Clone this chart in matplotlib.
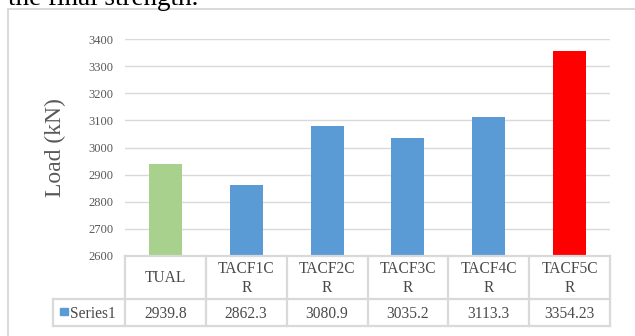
import matplotlib.pyplot as plt
from matplotlib.lines import Line2D
from matplotlib.patches import Rectangle

categories = ["TUAL", "TACF1CR", "TACF2CR", "TACF3CR", "TACF4CR", "TACF5CR"]
header_labels = ["TUAL", "TACF1C\nR", "TACF2C\nR", "TACF3C\nR", "TACF4C\nR", "TACF5C\nR"]
loads = [2939.8, 2862.3, 3080.9, 3035.2, 3113.3, 3354.23]
bar_colors = ["#A9D18E", "#5B9BD5", "#5B9BD5", "#5B9BD5", "#5B9BD5", "#FF0000"]
series_name = "Series1"
y_ticks = [2600, 2700, 2800, 2900, 3000, 3100, 3200, 3300, 3400]

W, H = 635, 336
plt.rcParams["font.family"] = ["Liberation Serif", "DejaVu Serif"]
fig = plt.figure(figsize=(W / 100, H / 100), dpi=100)

def fx(px):
  return px / W

def fy(py):
  return 1 - py / H

grid_c = "#D9D9D9"
text_c = "#595959"

# outer chart frame (runs off the right and bottom edges)
fig.add_artist(Rectangle((fx(8), fy(345)), fx(640) - fx(8), fy(9) - fy(345),
                         transform=fig.transFigure, fill=False, ec=grid_c, lw=1.4))

# caption line above, clipped at the top
fig.text(fx(8), fy(5), "the final strength.", fontsize=19.5, ha="left", va="baseline", color="black")

left, right, top, base = 125, 610, 39, 256
ax = fig.add_axes([fx(left), fy(base), fx(right) - fx(left), fy(top) - fy(base)])
x = range(len(categories))
ax.bar(x, loads, width=0.41, color=bar_colors, zorder=3)
ax.set_xlim(-0.5, len(categories) - 0.5)
ax.set_ylim(2600, 3400)
ax.set_yticks(y_ticks)
ax.yaxis.grid(True, color=grid_c, lw=1.0, zorder=0)
ax.set_xticks([])
ax.tick_params(axis="y", length=0, pad=8.5, labelsize=9, labelcolor=text_c)
for s in ax.spines.values():
  s.set_visible(False)
ax.set_axisbelow(True)

fig.text(fx(55), fy((top + base) / 2), "Load (kN)", rotation=90, fontsize=17,
         ha="center", va="center", color=text_c)

# data table under the axis
row1, row2, row3 = 256, 299, 326
lab_left = 53
col_w = (right - left) / len(categories)
lw_t = 1.6

def hline(y, x0, x1):
  fig.add_artist(Line2D([fx(x0), fx(x1)], [fy(y), fy(y)], transform=fig.transFigure, color=grid_c, lw=lw_t))

def vline(xp, y0, y1):
  fig.add_artist(Line2D([fx(xp), fx(xp)], [fy(y0), fy(y1)], transform=fig.transFigure, color=grid_c, lw=lw_t))

hline(row1, left, right)
hline(row2, lab_left, right)
hline(row3, lab_left, right)
vline(lab_left, row2, row3)
for i in range(len(categories) + 1):
  vline(left + i * col_w, row1, row3)

tbl_c = "#4A4A4A"
for i, (lab, v) in enumerate(zip(header_labels, loads)):
  cx = left + (i + 0.5) * col_w
  fig.text(fx(cx), fy((row1 + row2) / 2 + 1), lab, fontsize=11.2, ha="center", va="center",
           color=tbl_c, linespacing=1.25)
  fig.text(fx(cx), fy((row2 + row3) / 2 + 1), str(v), fontsize=11.2, ha="center", va="center", color=tbl_c)

# legend key in the row header
fig.add_artist(Rectangle((fx(60), fy(315)), fx(68) - fx(60), fy(308) - fy(315),
                         transform=fig.transFigure, color=bar_colors[1]))
fig.text(fx(70), fy((row2 + row3) / 2 + 1), series_name, fontsize=11.2, ha="left", va="center", color=tbl_c)

fig.savefig("out.png", dpi=100)
